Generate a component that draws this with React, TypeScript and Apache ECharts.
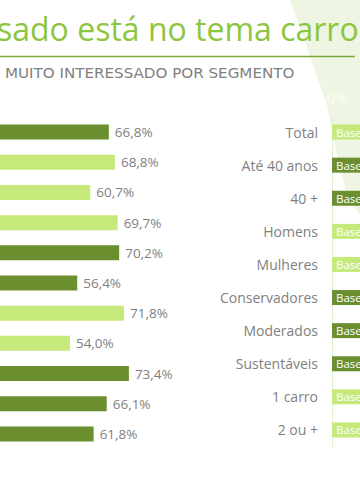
import React, { useEffect, useRef } from "react";
import * as echarts from "echarts";

// Bars (left-hand category labels are cropped off the slide)
const barRows = ["r1", "r2", "r3", "r4", "r5", "r6", "r7", "r8", "r9", "r10", "r11"];
const barValues = [66.8, 68.8, 60.7, 69.7, 70.2, 56.4, 71.8, 54.0, 73.4, 66.1, 61.8];
const barShades = ["dark", "light", "light", "light", "dark", "dark", "light", "light", "dark", "dark", "dark"];

// Right-hand segment table
const segments = ["Total", "Até 40 anos", "40 +", "Homens", "Mulheres", "Conservadores", "Moderados", "Sustentáveis", "1 carro", "2 ou +"];
const segmentShades = ["light", "dark", "dark", "light", "light", "dark", "dark", "dark", "light", "light"];
const badgeText = "Base";

const titleText = "sado está no tema carro";
const subtitleText = "MUITO INTERESSADO POR SEGMENTO";

// visible window of the value axis (slide is cropped on the left)
const axisMinVisible = 31;
const axisMax = 100;

const DARK = "#6b8e2f";
const LIGHT = "#c5ea7b";
const shadeColor = (s: string) => (s === "dark" ? DARK : LIGHT);

export default function App() {
  const ref = useRef<HTMLDivElement>(null);
  useEffect(() => {
    if (!ref.current) return;
    const chart = echarts.init(ref.current, null, { renderer: "svg" });
    const font = "'Open Sans', sans-serif";
    const wide = "'DejaVu Sans', sans-serif";
    chart.setOption({
      animation: false,
      backgroundColor: "#ffffff",
      textStyle: { fontFamily: font },
      graphic: [
        {
          type: "polygon",
          z: -10,
          shape: {
            points: [
              [290, 0],
              [360, 0],
              [360, 215],
              [348, 200],
              [336, 150],
              [327, 105],
              [308, 50],
            ],
          },
          style: { fill: "#eef6e3" },
        },
        {
          type: "text",
          x: 327,
          y: 97,
          style: { text: "0%", fill: "#ffffff", font: `15px ${font}`, verticalAlign: "middle", opacity: 0.8 },
        },
        {
          type: "text",
          x: -3,
          y: 28,
          style: { text: titleText, fill: "#8cc63f", font: `32px ${font}`, verticalAlign: "middle" },
        },
        {
          type: "line",
          shape: { x1: 0, y1: 56.5, x2: 355, y2: 56.5 },
          style: { stroke: "#7aab3a", lineWidth: 1.5 },
        },
        {
          type: "text",
          x: 5,
          y: 72.5,
          scaleX: 1.08,
          style: { text: subtitleText, fill: "#7f7f7f", font: `14px ${wide}`, verticalAlign: "middle" },
        },
      ],
      grid: [
        { left: 0, width: (axisMax - axisMinVisible) * 3.04, top: 117, height: 332 },
        { left: 332, width: 28, top: 115.5, height: 331 },
      ],
      xAxis: [
        { gridIndex: 0, type: "value", min: axisMinVisible, max: axisMax, show: false },
        { gridIndex: 1, type: "value", min: 0, max: 1, show: false },
      ],
      yAxis: [
        { gridIndex: 0, type: "category", data: barRows, inverse: true, show: false },
        {
          gridIndex: 1,
          type: "category",
          data: segments,
          inverse: true,
          axisLine: { show: true, lineStyle: { color: "#e2efd3", width: 1 } },
          axisTick: { show: false },
          axisLabel: { color: "#7f7f7f", fontSize: 14, margin: 14, fontFamily: font },
        },
      ],
      series: [
        {
          type: "bar",
          xAxisIndex: 0,
          yAxisIndex: 0,
          barWidth: 15,
          data: barValues.map((v, i) => ({ value: v, itemStyle: { color: shadeColor(barShades[i]) } })),
          label: {
            show: true,
            position: "right",
            distance: 6,
            color: "#7f7f7f",
            fontSize: 13.5,
            fontFamily: font,
            formatter: (p: any) => p.value.toFixed(1).replace(".", ",") + "%",
          },
        },
        {
          type: "bar",
          xAxisIndex: 1,
          yAxisIndex: 1,
          barWidth: 15,
          data: segments.map((s, i) => ({ value: 1, itemStyle: { color: shadeColor(segmentShades[i]) } })),
          label: {
            show: true,
            position: "insideLeft",
            distance: 4,
            color: "#ffffff",
            fontSize: 11.5,
            fontFamily: font,
            formatter: () => badgeText,
          },
        },
      ],
    });
    return () => chart.dispose();
  }, []);
  return (
    <div
      ref={ref}
      style={{ position: "absolute", left: 0, top: 0, width: 360, height: 504, background: "#fff" }}
    />
  );
}
